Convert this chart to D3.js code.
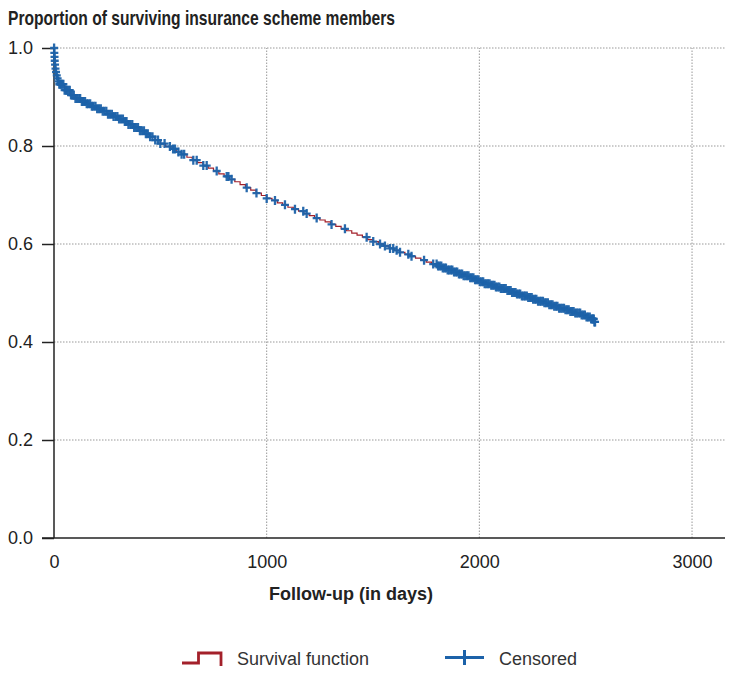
<!DOCTYPE html>
<html>
<head>
<meta charset="utf-8">
<script src="https://cdn.jsdelivr.net/npm/d3@7"></script>
<style>
  body { margin: 0; background: #fff; }
  svg { display: block; }
  text { font-family: "Liberation Sans", Arial, sans-serif; fill: #222; }
</style>
</head>
<body>
<svg id="chart" width="735" height="679"></svg>
<script>
// Kaplan-Meier estimate (step points)
var survTimes = [0, 1, 2, 3, 4, 6, 8, 11, 15, 20, 25, 50, 75, 100, 125, 150, 175, 200, 225, 250, 275, 300, 325,
  350, 375, 400, 425, 450, 475, 500, 525, 550, 575, 600, 625, 650, 675, 700, 725, 750, 775, 800, 825, 850, 875,
  900, 925, 950, 975, 1000, 1025, 1050, 1075, 1100, 1125, 1150, 1175, 1200, 1225, 1250, 1275, 1300, 1325, 1350,
  1375, 1400, 1425, 1450, 1475, 1500, 1525, 1550, 1575, 1600, 1625, 1650, 1675, 1700, 1725, 1750, 1775, 1800,
  1825, 1850, 1875, 1900, 1925, 1950, 1975, 2000, 2025, 2050, 2075, 2100, 2125, 2150, 2175, 2200, 2225, 2250,
  2275, 2300, 2325, 2350, 2375, 2400, 2425, 2450, 2475, 2500, 2525, 2540, 2560];
var survValues = [1.0, 0.99, 0.982, 0.974, 0.966, 0.958, 0.951, 0.944, 0.938, 0.932, 0.926, 0.914, 0.904, 0.897,
  0.891, 0.886, 0.881, 0.876, 0.871, 0.865, 0.860, 0.855, 0.850, 0.844, 0.838, 0.831, 0.825, 0.819, 0.812, 0.805,
  0.799, 0.794, 0.788, 0.783, 0.777, 0.771, 0.766, 0.760, 0.755, 0.749, 0.743, 0.738, 0.732, 0.727, 0.721, 0.715,
  0.710, 0.704, 0.699, 0.693, 0.689, 0.684, 0.680, 0.675, 0.671, 0.667, 0.662, 0.658, 0.653, 0.649, 0.645, 0.640,
  0.636, 0.631, 0.627, 0.622, 0.618, 0.614, 0.609, 0.605, 0.600, 0.596, 0.591, 0.587, 0.583, 0.579, 0.575, 0.571,
  0.567, 0.563, 0.559, 0.555, 0.551, 0.547, 0.543, 0.539, 0.535, 0.531, 0.527, 0.523, 0.519, 0.516, 0.512, 0.509,
  0.505, 0.501, 0.498, 0.494, 0.491, 0.487, 0.483, 0.480, 0.476, 0.473, 0.469, 0.466, 0.462, 0.459, 0.455, 0.451,
  0.447, 0.441, 0.441];

// censoring times (days)
var censoredEarly = [0.5, 1.5, 2.5, 3.5, 5, 7, 9.5, 13, 17, 21, 25, 30, 34, 39, 44, 50, 56, 61, 68, 74, 80, 87, 93, 101,
  108, 116, 123, 131, 138, 146, 154, 161, 170, 178, 186, 195, 203, 211, 220, 229, 237, 246, 254, 263, 272, 280, 289,
  298, 306, 315, 324, 333, 341, 350, 359, 368, 377, 386, 395, 404, 413, 423, 432, 441, 452, 463, 476, 489];
var censoredMiddle = [500, 520, 545, 560, 569, 585, 600, 612, 655, 671, 702, 718, 765, 812, 820, 835, 906, 952, 1000,
  1039, 1086, 1133, 1172, 1188, 1235, 1305, 1368, 1470, 1501, 1533, 1556, 1580, 1595, 1611, 1627, 1666, 1681, 1740, 1783];
var censoredLate = [1799, 1806, 1813, 1821, 1828, 1836, 1843, 1851, 1858, 1866, 1873, 1881, 1889, 1896, 1904, 1911,
  1919, 1926, 1934, 1942, 1949, 1957, 1964, 1972, 1980, 1987, 1995, 2002, 2010, 2018, 2025, 2033, 2040, 2048, 2056,
  2063, 2071, 2078, 2086, 2094, 2101, 2109, 2116, 2124, 2132, 2139, 2147, 2154, 2162, 2170, 2177, 2185, 2192, 2200,
  2208, 2215, 2223, 2230, 2238, 2246, 2253, 2261, 2268, 2276, 2284, 2291, 2299, 2306, 2314, 2322, 2329, 2337, 2344,
  2352, 2360, 2367, 2375, 2382, 2390, 2398, 2405, 2413, 2420, 2428, 2436, 2443, 2451, 2458, 2466, 2474, 2481, 2489,
  2496, 2504, 2511, 2519, 2526, 2531, 2535, 2538, 2541, 2544];

var xTicks = [0, 1000, 2000, 3000];
var yTicks = [0, 0.2, 0.4, 0.6, 0.8, 1.0];

var svg = d3.select("#chart");
var x = d3.scaleLinear().domain([0, 3155]).range([54, 725]);
var y = d3.scaleLinear().domain([0, 1]).range([538, 48]);

var red = "#a3202a", blue = "#1c62a9";

// title
svg.append("text").attr("x", 8).attr("y", 25)
  .attr("textLength", 387).attr("lengthAdjust", "spacingAndGlyphs")
  .style("font-family", "'Liberation Sans Narrow', 'Liberation Sans', Arial, sans-serif")
  .style("font-weight", "bold").style("font-size", "21px")
  .text("Proportion of surviving insurance scheme members");

// grid
var grid = svg.append("g").attr("stroke", "#999").attr("stroke-width", 1).attr("stroke-dasharray", "1.5,1.5");
grid.selectAll(".hg").data(yTicks.filter(function (d) { return d > 0; })).enter().append("line")
  .attr("x1", x(0)).attr("x2", 725).attr("y1", function (d) { return y(d); }).attr("y2", function (d) { return y(d); });
grid.selectAll(".vg").data(xTicks.filter(function (d) { return d > 0; })).enter().append("line")
  .attr("y1", y(0)).attr("y2", y(1)).attr("x1", function (d) { return x(d); }).attr("x2", function (d) { return x(d); });

// axes
var yAxis = svg.append("g").attr("transform", "translate(" + x(0) + ",0)")
  .call(d3.axisLeft(y).tickValues(yTicks).tickFormat(d3.format(".1f")).tickSize(12).tickPadding(9));
var xAxis = svg.append("g").attr("transform", "translate(0," + y(0) + ")")
  .call(d3.axisBottom(x).tickValues(xTicks).tickFormat(d3.format("d")).tickSize(0).tickPadding(17));
[yAxis, xAxis].forEach(function (a) {
  a.select(".domain").remove();
  a.selectAll("line").attr("stroke", "#222").attr("stroke-width", 1.5);
  a.selectAll("text").style("font-size", "18px").style("fill", "#222").style("font-family", "'Liberation Sans', Arial, sans-serif");
});
svg.append("line").attr("x1", x(0)).attr("x2", x(0)).attr("y1", y(1)).attr("y2", y(0))
  .attr("stroke", "#222").attr("stroke-width", 1.5);
svg.append("line").attr("x1", 42).attr("x2", 725).attr("y1", y(0)).attr("y2", y(0))
  .attr("stroke", "#222").attr("stroke-width", 1.5);

svg.append("text").attr("x", 351).attr("y", 600).attr("text-anchor", "middle")
  .style("font-weight", "bold").style("font-size", "18px")
  .text("Follow-up (in days)");

// survival step line
var pts = survTimes.map(function (t, i) { return [t, survValues[i]]; });
var line = d3.line().x(function (d) { return x(d[0]); }).y(function (d) { return y(d[1]); }).curve(d3.curveStepAfter);
svg.append("path").datum(pts).attr("d", line).attr("fill", "none").attr("stroke", red).attr("stroke-width", 1.2);

// censored marks placed on the step function
var bis = d3.bisector(function (d) { return d; }).right;
function survAt(t) {
  var i = Math.max(0, bis(survTimes, t) - 1);
  return survValues[i];
}
var censored = censoredEarly.concat(censoredMiddle, censoredLate);
svg.append("g").selectAll("path").data(censored).enter().append("path")
  .attr("transform", function (d) { return "translate(" + x(d) + "," + y(survAt(d)) + ")"; })
  .attr("d", "M-4,0H4M0,-4.5V4.5")
  .attr("stroke", blue).attr("stroke-width", 2.3).attr("fill", "none").attr("opacity", 0.95);

// legend
var lg = svg.append("g");
lg.append("path").attr("d", "M182,663H198.5V653H221V666").attr("fill", "none")
  .attr("stroke", red).attr("stroke-width", 2.8);
lg.append("text").attr("x", 237).attr("y", 665).style("font-size", "18px").style("fill", "#333").text("Survival function");
lg.append("path").attr("d", "M445,657.5H484M464.5,650V665").attr("fill", "none")
  .attr("stroke", blue).attr("stroke-width", 3);
lg.append("text").attr("x", 499).attr("y", 665).style("font-size", "18px").style("fill", "#333").text("Censored");
</script>
</body>
</html>
